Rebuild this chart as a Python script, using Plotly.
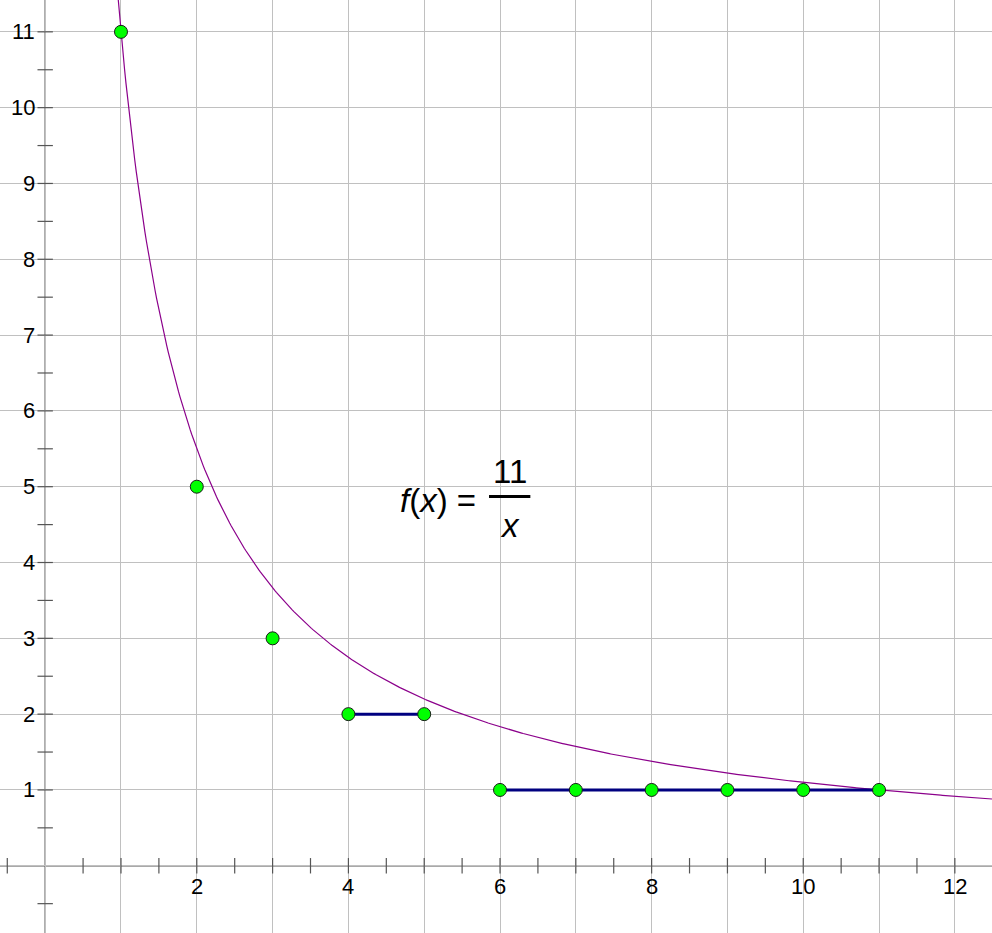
import numpy as np
import plotly.graph_objects as go

# data
point_x = [1, 2, 3, 4, 5, 6, 7, 8, 9, 10, 11]
point_y = [11, 5, 3, 2, 2, 1, 1, 1, 1, 1, 1]
seg1_x = [4, 5]
seg1_y = [2, 2]
seg2_x = [6, 11]
seg2_y = [1, 1]
func_k = 11
x_tick_labels = [2, 4, 6, 8, 10, 12]
y_tick_labels = [1, 2, 3, 4, 5, 6, 7, 8, 9, 10, 11]

XR = [-0.596, 12.49]
YR = [-0.887, 11.42]

fig = go.Figure()

# curve f(x) = 11/x
cx = np.linspace(0.95, XR[1], 600)
cy = func_k / cx
fig.add_trace(go.Scatter(x=cx, y=cy, mode="lines",
                         line=dict(color="#8B008B", width=1.2),
                         hoverinfo="skip"))

# axis tick marks every 0.5
xt = np.arange(-0.5, 12.6, 0.5)
xt = xt[xt != 0]
yt = np.arange(-0.5, 11.6, 0.5)
yt = yt[yt != 0]
fig.add_trace(go.Scatter(x=xt, y=[0]*len(xt), mode="markers",
                         marker=dict(symbol="line-ns-open", size=11, color="#555555",
                                     line=dict(color="#555555", width=1.2)),
                         hoverinfo="skip"))
fig.add_trace(go.Scatter(x=[0]*len(yt), y=yt, mode="markers",
                         marker=dict(symbol="line-ew-open", size=11, color="#555555",
                                     line=dict(color="#555555", width=1.2)),
                         hoverinfo="skip"))

# segments
for sx, sy in [(seg1_x, seg1_y), (seg2_x, seg2_y)]:
    fig.add_trace(go.Scatter(x=sx, y=sy, mode="lines",
                             line=dict(color="#000080", width=3),
                             hoverinfo="skip"))

# points
fig.add_trace(go.Scatter(x=point_x, y=point_y, mode="markers",
                         marker=dict(color="#00FF00", size=13,
                                     line=dict(color="#1a1a1a", width=1)),
                         hoverinfo="skip"))

tick_font = dict(family="Liberation Sans, Arial", size=22, color="black")
annotations = []
for v in x_tick_labels:
    annotations.append(dict(x=v, y=0, xref="x", yref="y", text=str(v),
                            showarrow=False, yshift=-21, font=tick_font))
for v in y_tick_labels:
    annotations.append(dict(x=0, y=v, xref="x", yref="y", text=str(v),
                            showarrow=False, xanchor="right", xshift=-8,
                            font=tick_font))

# formula label
lab_font = dict(family="Liberation Sans, Arial", size=33, color="black")
annotations.append(dict(x=6.13, y=4.87, xref="x", yref="y",
                        text="<i>f</i>(<i>x</i>) =", showarrow=False,
                        xanchor="right", xshift=-32, yshift=-4, font=lab_font))
annotations.append(dict(x=6.13, y=4.87, xref="x", yref="y", text="11",
                        showarrow=False, yshift=25, font=lab_font))
annotations.append(dict(x=6.13, y=4.87, xref="x", yref="y", text="<i>x</i>",
                        showarrow=False, yshift=-29, font=lab_font))

shapes = [
    dict(type="line", xref="x", yref="y", x0=5.855, x1=6.40, y0=4.87, y1=4.87,
         line=dict(color="black", width=3)),
    dict(type="line", xref="x", yref="y", x0=XR[0], x1=XR[1], y0=0, y1=0,
         line=dict(color="#555555", width=1.3), layer="below"),
    dict(type="line", xref="x", yref="y", x0=0, x1=0, y0=YR[0], y1=YR[1],
         line=dict(color="#555555", width=1.3), layer="below"),
]

fig.update_layout(
    width=992, height=933,
    margin=dict(l=0, r=0, t=0, b=0),
    paper_bgcolor="white", plot_bgcolor="white",
    showlegend=False,
    annotations=annotations,
    shapes=shapes,
    xaxis=dict(range=XR, showgrid=True, gridcolor="#C0C0C0", gridwidth=1,
               dtick=1, tick0=0, showticklabels=False, zeroline=False,
               fixedrange=True, ticks=""),
    yaxis=dict(range=YR, showgrid=True, gridcolor="#C0C0C0", gridwidth=1,
               dtick=1, tick0=0, showticklabels=False, zeroline=False,
               fixedrange=True, ticks=""),
)

fig.write_html("out.html", config={"displayModeBar": False},
               post_script="document.body.style.margin='0';document.body.style.padding='0';")
